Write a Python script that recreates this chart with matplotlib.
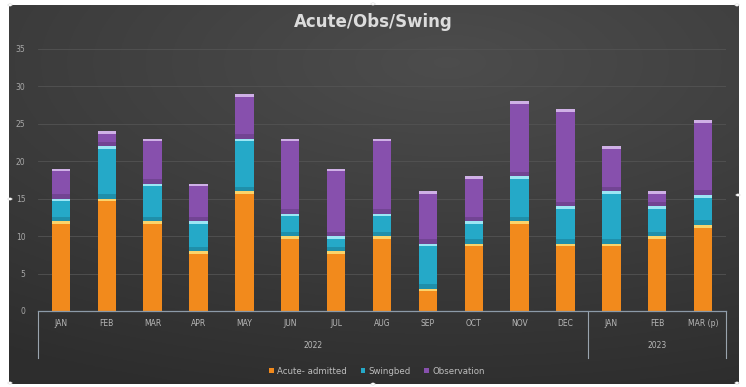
import numpy as np
import matplotlib.pyplot as plt
from matplotlib.patches import Circle

months = ["JAN", "FEB", "MAR", "APR", "MAY", "JUN", "JUL", "AUG", "SEP", "OCT", "NOV", "DEC",
          "JAN", "FEB", "MAR (p)"]
years = ["2022", "2023"]
year_counts = [12, 3]

acute = [12, 15, 12, 8, 16, 10, 8, 10, 3, 9, 12, 9, 9, 10, 11.5]
swingbed = [3, 7, 5, 4, 7, 3, 2, 3, 6, 3, 6, 5, 7, 4, 4]
observation = [4, 2, 6, 5, 6, 10, 9, 10, 7, 6, 10, 13, 6, 2, 10]

series = [
    ("Acute- admitted", acute, "#f28a1c", "#fbd36a"),
    ("Swingbed", swingbed, "#25a9c8", "#9be6f4"),
    ("Observation", observation, "#8750ad", "#cfb0e6"),
]

W, H = 746, 387
fig = plt.figure(figsize=(W / 100, H / 100), dpi=100)
fig.patch.set_facecolor("white")

# dark chart background with a soft radial glow
bg = fig.add_axes([9 / W, 1 - 384 / H, 730 / W, 379 / H])
yy, xx = np.mgrid[0:1:200j, 0:1:400j]
r = np.sqrt(((xx - 0.6) / 1.1) ** 2 + ((yy - 0.15) / 0.9) ** 2)
g = np.clip(0.30 - 0.12 * r, 0.18, 0.30)
bg.imshow(np.dstack([g, g, g]), aspect="auto", extent=[0, 1, 0, 1], origin="upper")
bg.set_axis_off()

ax = fig.add_axes([38 / W, 1 - 311 / H, 688 / W, 262 / H])
ax.patch.set_alpha(0)
x = np.arange(len(months))
width = 0.4

ax.set_ylim(0, 35)
ax.set_xlim(-0.5, len(months) - 0.5)
ax.set_yticks(np.arange(0, 36, 5))
ax.yaxis.grid(True, color="#535353", linewidth=0.6)
ax.set_axisbelow(True)
ax.tick_params(axis="y", length=0, pad=9, labelsize=5.5, labelcolor="#a8a8a8")
ax.set_xticks([])
for s in ["top", "right", "left"]:
    ax.spines[s].set_visible(False)
ax.spines["bottom"].set_color("#8c9aa8")
ax.spines["bottom"].set_linewidth(0.9)

bottom = np.zeros(len(months))
handles = []
for k, (name, vals, color, cap) in enumerate(series):
    vals = np.array(vals, dtype=float)
    b = ax.bar(x, vals, width, bottom=bottom, color=color, label=name, zorder=2)
    handles.append(b)
    # darker band where a segment sits on the one below, light cap at the top
    if k > 0:
        ax.bar(x, np.minimum(vals, 0.6), width, bottom=bottom, color="black",
               alpha=0.15, zorder=3)
    ax.bar(x, 0.35, width, bottom=bottom + vals - 0.35, color=cap, zorder=4)
    bottom += vals

# category labels with two-level grouping
tr = ax.get_xaxis_transform()
for i, m in enumerate(months):
    ax.text(i, -12 / 262, m, transform=tr, ha="center", va="center",
            fontsize=5.5, color="#b8b8b8")
start = 0
edges = [-0.5]
for yr, n in zip(years, year_counts):
    ax.text(start + (n - 1) / 2, -34 / 262, yr, transform=tr, ha="center", va="center",
            fontsize=5.5, color="#b8b8b8")
    start += n
    edges.append(start - 0.5)
for e in edges:
    ax.plot([e, e], [0, -47 / 262], transform=tr, color="#9aa4ae", linewidth=0.8,
            clip_on=False)

fig.text(0.5, 1 - 22 / H, "Acute/Obs/Swing", ha="center", va="center",
         fontsize=12, fontweight="bold", color="#dcdcdc")

fig.legend(handles=handles, labels=[s[0] for s in series], loc="center",
           bbox_to_anchor=(377 / W, 1 - 371 / H), ncol=3, frameon=False,
           fontsize=6.2, labelcolor="#bdbdbd", handlelength=0.5, handleheight=0.5,
           handletextpad=0.4, columnspacing=1.6)

# selection handles on the chart frame
for px, py in [(10, 5), (373, 4), (737, 5), (10, 199), (738, 195),
               (10, 383), (373, 384), (737, 383)]:
    fig.patches.append(Circle((px / W, 1 - py / H), 2.2 / W, transform=fig.transFigure,
                              facecolor="white", edgecolor="#cccccc", linewidth=0.3))

fig.savefig("out.png", dpi=100)
